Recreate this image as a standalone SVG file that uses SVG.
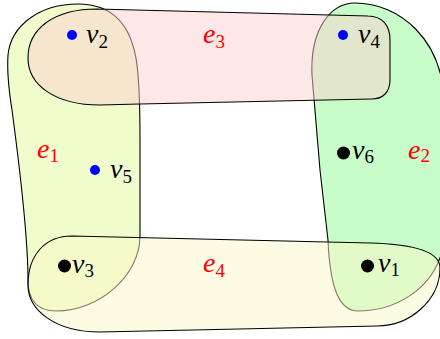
<svg xmlns="http://www.w3.org/2000/svg" width="440" height="339" viewBox="0 0 440 339">
<style>
.edge{stroke:#000;stroke-width:1.1;fill-opacity:0.5}
</style>
<rect width="440" height="339" fill="#fff"/>
<g id="edges">
<g id="e1"><path class="edge" fill="#e2fa98" d="M 78,4 C 112,4 132,25 137,65 C 140,90 140,120 140,140 L 140,236 C 140,275 100,311 56,311 C 35,311 28,298 28,280 C 28,240 20,170 12,110 C 8,85 7,70 8,55 C 11,25 40,4 78,4 Z"/></g>
<g id="e2"><path class="edge" fill="#91f991" d="M 355,3 C 330,3 310,30 312,75 L 320,170 L 328,240 C 330,290 340,311 358,311 C 395,311 430,290 441,255 L 444,100 C 442,40 400,3 355,3 Z"/></g>
<g id="e3"><path class="edge" fill="#fcd0d0" d="M 97,9 L 368,16 C 382,16 390,25 390,40 L 390,80 C 390,92 383,99 372,99 L 140,104 L 100,105 C 55,105 28,85 28,58 C 28,28 55,9 97,9 Z"/></g>
<g id="e4"><path class="edge" fill="#fbf7c8" d="M 72,236 L 370,243 C 410,244 440,250 440,268 C 440,300 410,326 377,326 L 100,332 C 55,332 28,310 28,285 C 28,255 45,236 72,236 Z"/></g>
</g>
<g font-family="'Liberation Serif', 'Times New Roman', serif" font-size="28" font-style="italic">
<g id="labels-e" fill="#ff0000">
<text x="203" y="43">e<tspan font-style="normal" font-size="19" dy="5">3</tspan></text>
<text x="37" y="158">e<tspan font-style="normal" font-size="19" dy="4">1</tspan></text>
<text x="408" y="159">e<tspan font-style="normal" font-size="19" dy="3">2</tspan></text>
<text x="203" y="272">e<tspan font-style="normal" font-size="19" dy="5">4</tspan></text>
</g>
<g id="v2"><circle cx="72" cy="35" r="5" fill="#0000ff"/><text x="86" y="43">v<tspan font-style="normal" font-size="19" dy="5">2</tspan></text></g>
<g id="v4"><circle cx="343" cy="35" r="5" fill="#0000ff"/><text x="358" y="43">v<tspan font-style="normal" font-size="19" dy="5">4</tspan></text></g>
<g id="v5"><circle cx="95" cy="170" r="5" fill="#0000ff"/><text x="110" y="178">v<tspan font-style="normal" font-size="19" dy="5">5</tspan></text></g>
<g id="v6"><circle cx="343.5" cy="153" r="6.5" fill="#000"/><text x="352" y="159">v<tspan font-style="normal" font-size="19" dy="4">6</tspan></text></g>
<g id="v3"><circle cx="64.5" cy="266" r="6.5" fill="#000"/><text x="72" y="273">v<tspan font-style="normal" font-size="19" dy="4">3</tspan></text></g>
<g id="v1"><circle cx="367.5" cy="266" r="6.5" fill="#000"/><text x="378" y="272">v<tspan font-style="normal" font-size="19" dy="4">1</tspan></text></g>
</g>
</svg>
